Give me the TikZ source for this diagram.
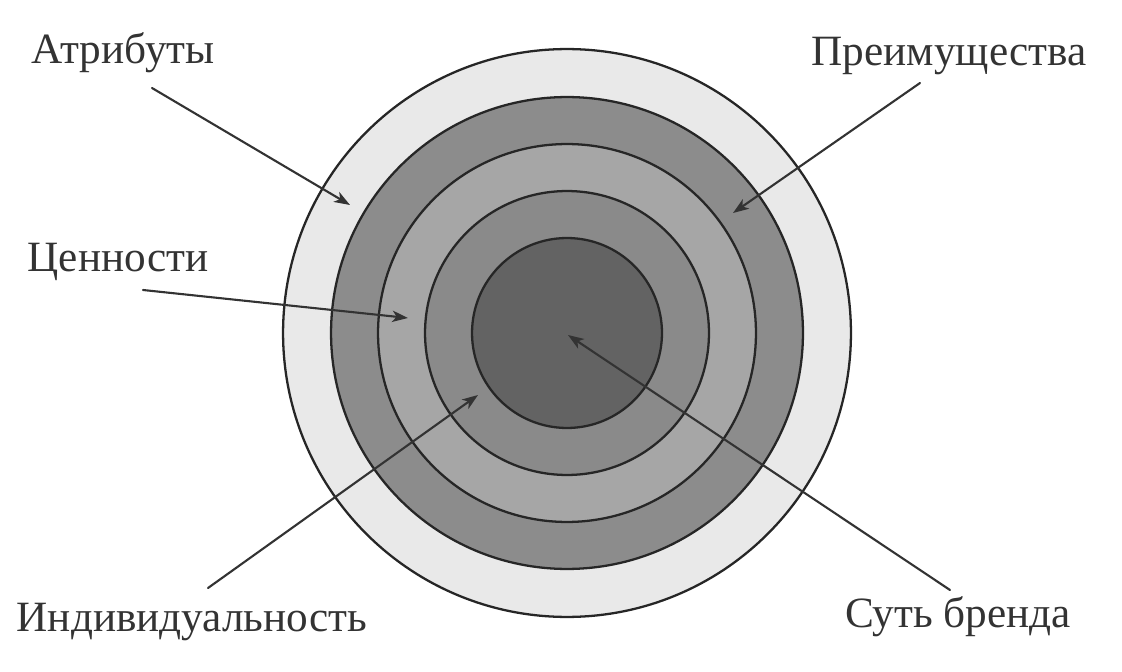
\documentclass[tikz,border=0pt]{standalone}
\usepackage{fontspec}
\setmainfont{Liberation Serif}
\usetikzlibrary{calc, arrows.meta}

\definecolor{ringA}{HTML}{E9E9E9}
\definecolor{ringB}{HTML}{8C8C8C}
\definecolor{ringC}{HTML}{A6A6A6}
\definecolor{ringD}{HTML}{8A8A8A}
\definecolor{ringE}{HTML}{636363}

\begin{document}
\begin{tikzpicture}[x=0.02cm, y=-0.02cm, >={Stealth[length=9pt, width=6.5pt, inset=2.5pt]},
    line join=round, line cap=round,
    ring/.style={draw=black!85, line width=1.3pt},
    lbl/.style={inner sep=0pt, text=black!80, font=\fontsize{24.6}{28}\selectfont},
    ptr/.style={->, draw=black!80, line width=1.2pt}]
    \useasboundingbox (0,0) rectangle (1122,672);

    % центр колец
    \coordinate (O) at (567,333);

    % кольца (от внешнего к внутреннему)
    \draw[ring, fill=ringA] (O) circle (5.68cm);
    \draw[ring, fill=ringB] (O) circle (4.72cm);
    \draw[ring, fill=ringC] (O) circle (3.78cm);
    \draw[ring, fill=ringD] (O) circle (2.84cm);
    \draw[ring, fill=ringE] (O) circle (1.90cm);

    % подписи
    \node[lbl] (attr) at (123,53) {Атрибуты};
    \node[lbl] (pref) at (949,56) {Преимущества};
    \node[lbl] (cenn) at (118,262) {Ценности};
    \node[lbl] (indv) at (192,622) {Индивидуальность};
    \node[lbl] (sut)  at (958,617) {Суть бренда};

    % начала и концы стрелок
    \coordinate (attrS) at (152,88);
    \coordinate (attrE) at (350,205);
    \coordinate (prefS) at (920,83);
    \coordinate (prefE) at (733,213);
    \coordinate (cennS) at (143,290);
    \coordinate (cennE) at (408,318);
    \coordinate (indvS) at (208,588);
    \coordinate (indvE) at (478,395);
    \coordinate (sutS)  at (950,590);
    \coordinate (sutE)  at (568,335);

    % стрелки
    \draw[ptr] (attrS) -- (attrE);
    \draw[ptr] (prefS) -- (prefE);
    \draw[ptr] (cennS) -- (cennE);
    \draw[ptr] (indvS) -- (indvE);
    \draw[ptr] (sutS) -- (sutE);
\end{tikzpicture}
\end{document}
